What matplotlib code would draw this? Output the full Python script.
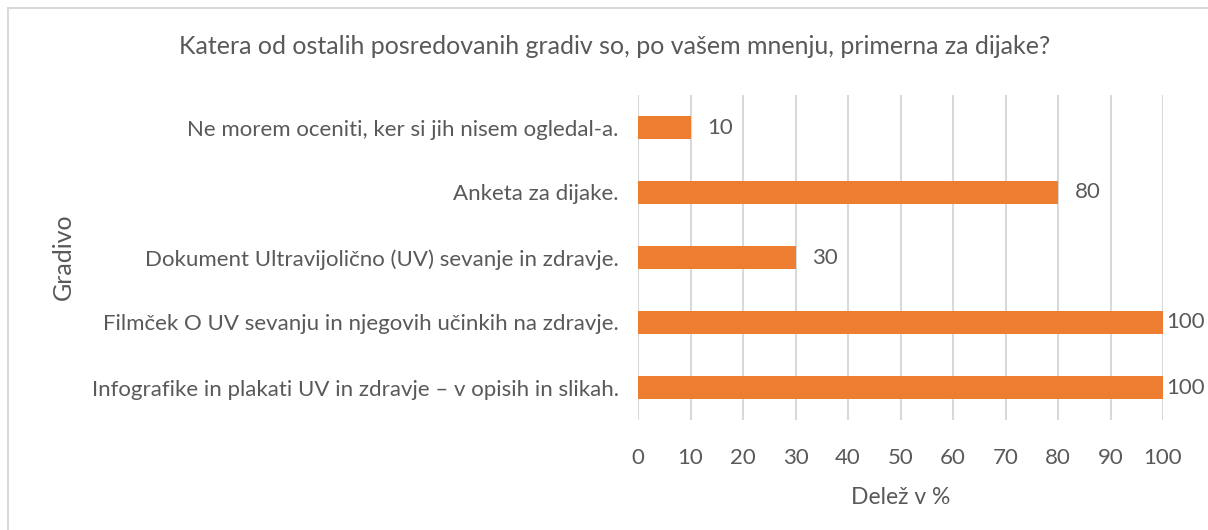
import matplotlib.pyplot as plt
from matplotlib.patches import Rectangle

plt.rcParams['font.family'] = ['Lato', 'DejaVu Sans']

# data, top to bottom as in the chart
categories = [
    'Ne morem oceniti, ker si jih nisem ogledal-a.',
    'Anketa za dijake.',
    'Dokument Ultravijolično (UV) sevanje in zdravje.',
    'Filmček O UV sevanju in njegovih učinkih na zdravje.',
    'Infografike in plakati UV in zdravje – v opisih in slikah.',
]
values = [10, 80, 30, 100, 100]
xticks = [0, 10, 20, 30, 40, 50, 60, 70, 80, 90, 100]

txt = '#595959'
bar_color = '#ED7D31'
grid = '#D9D9D9'
fs = 16

fig = plt.figure(figsize=(12.08, 5.3), dpi=100)
ax = fig.add_axes([638 / 1208, 1 - 420 / 530, (1163 - 638) / 1208, (420 - 95) / 530])

# chart border (only top and left visible in reference)
fig.patches.append(Rectangle((8 / 1208, -0.1), 1.2, (530 - 8) / 530 + 0.1,
                             transform=fig.transFigure, fill=False,
                             edgecolor=grid, linewidth=1.5))

pos = list(range(len(categories)))
ax.barh(pos, values, height=0.36, color=bar_color, zorder=3)
ax.set_ylim(len(categories) - 0.5, -0.5)
ax.set_xlim(0, 100)
ax.set_xticks(xticks)
ax.set_yticks(pos)
ax.set_yticklabels(categories, fontsize=fs, color=txt)
ax.tick_params(axis='x', labelsize=fs, labelcolor=txt, length=0, pad=20)
ax.tick_params(axis='y', length=0, pad=14)
ax.grid(axis='x', color=grid, linewidth=1.5, zorder=0)
for s in ax.spines.values():
    s.set_visible(False)

for p, v in zip(pos, values):
    off = 3 if v == max(values) else 17
    ax.annotate(str(v), (v, p), xytext=(off, 0), textcoords='offset pixels',
                va='center', ha='left', fontsize=fs, color=txt)

ax.set_xlabel('Delež v %', fontsize=fs + 0.5, color=txt, labelpad=14)
fig.text(63 / 1208, 1 - 257 / 530, 'Gradivo', rotation=90, fontsize=18,
         color=txt, ha='center', va='center')
fig.text(615 / 1208, 1 - 47 / 530,
         'Katera od ostalih posredovanih gradiv so, po vašem mnenju, primerna za dijake?',
         fontsize=18, color=txt, ha='center', va='center')

fig.savefig('out.png', dpi=100)
